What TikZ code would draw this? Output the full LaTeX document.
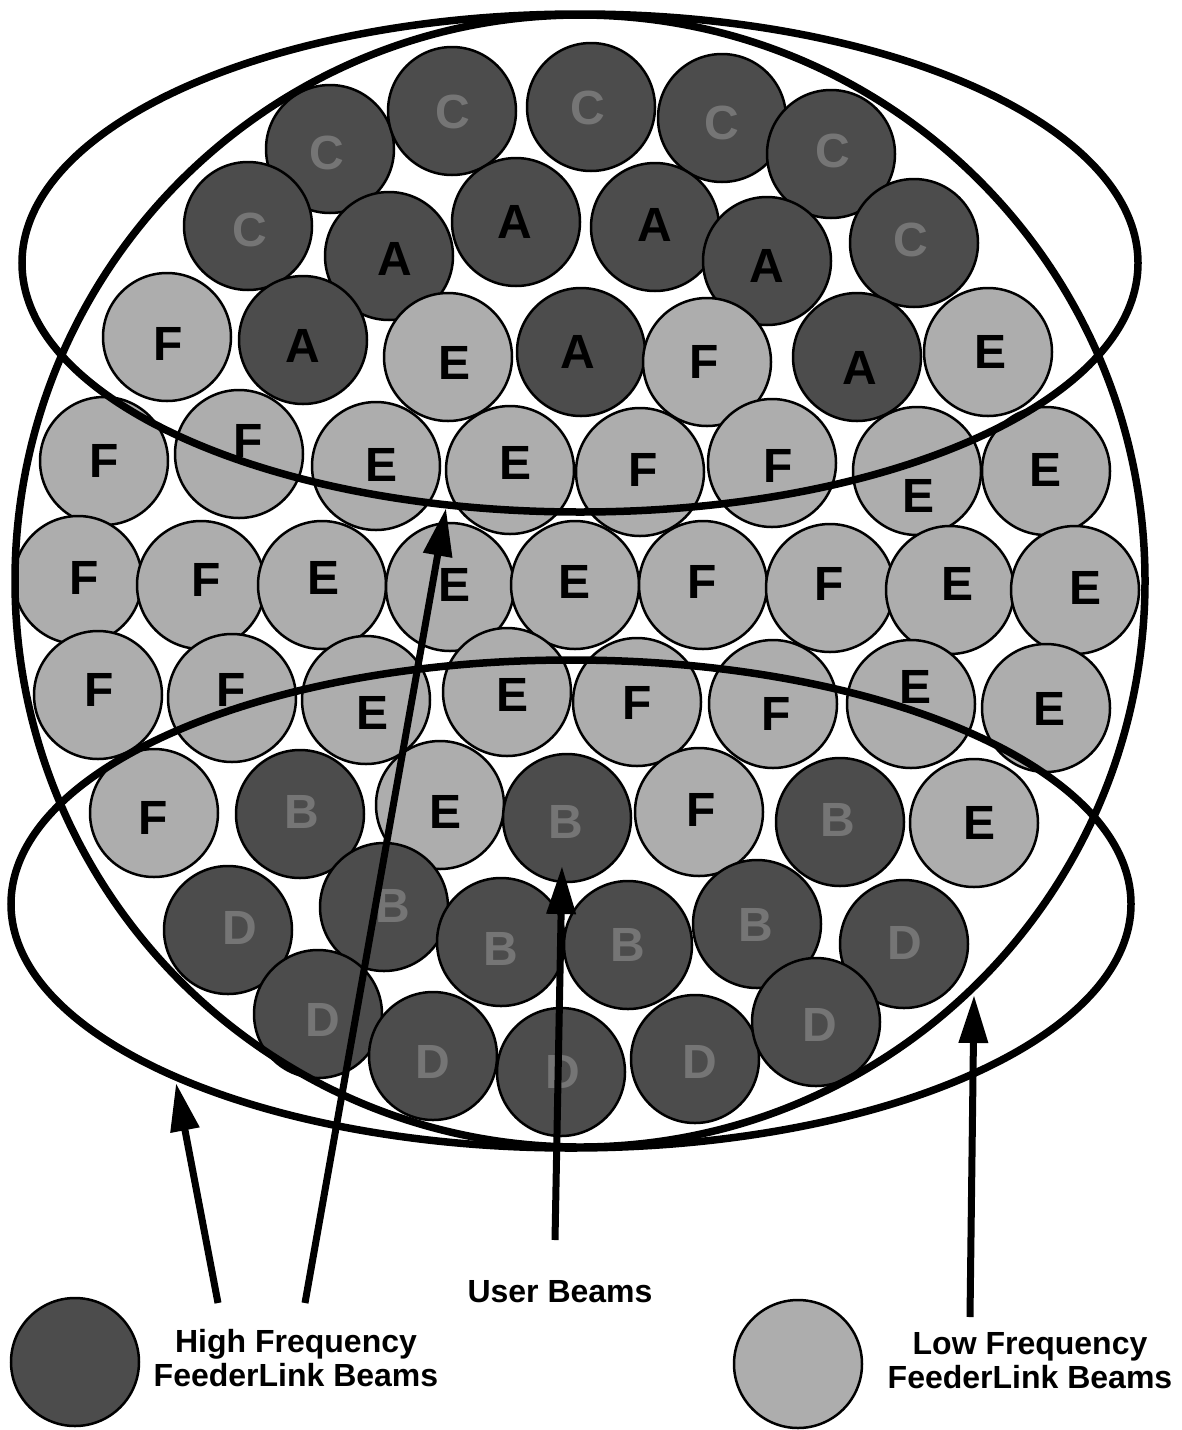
\documentclass[tikz,border=0pt]{standalone}
\usepackage{fontspec}
\setmainfont{Liberation Sans}
\usetikzlibrary{arrows.meta}
\definecolor{darkbeam}{gray}{0.30}
\definecolor{lightbeam}{gray}{0.68}
\definecolor{darklabel}{gray}{0.46}
\def\beamlist{%
330/149/327/153/C/hfbeam/dlab,%
452/111/453/112/C/hfbeam/dlab,%
591/107/588/108/C/hfbeam/dlab,%
722/118/722/123/C/hfbeam/dlab,%
831/154/833/151/C/hfbeam/dlab,%
248/226/250/230/C/hfbeam/dlab,%
914/243/911/240/C/hfbeam/dlab,%
389/256/395/259/A/hfbeam/alab,%
516/222/515/222/A/hfbeam/alab,%
655/227/655/225/A/hfbeam/alab,%
767/261/767/266/A/hfbeam/alab,%
303/340/303/346/A/hfbeam/alab,%
581/352/578/352/A/hfbeam/alab,%
857/357/860/368/A/hfbeam/alab,%
167/337/168/344/F/lfbeam/llab,%
448/357/455/363/E/lfbeam/llab,%
707/362/704/362/F/lfbeam/llab,%
988/352/990/352/E/lfbeam/llab,%
104/461/104/461/F/lfbeam/llab,%
239/454/248/441/F/lfbeam/llab,%
376/466/382/465/E/lfbeam/llab,%
510/470/516/463/E/lfbeam/llab,%
640/472/643/470/F/lfbeam/llab,%
772/463/778/466/F/lfbeam/llab,%
917/471/918/496/E/lfbeam/llab,%
1046/471/1045/470/E/lfbeam/llab,%
78/580/84/578/F/lfbeam/llab,%
201/585/206/580/F/lfbeam/llab,%
322/585/324/578/E/lfbeam/llab,%
450/587/455/585/E/lfbeam/llab,%
575/585/575/582/E/lfbeam/llab,%
703/585/702/582/F/lfbeam/llab,%
830/588/829/584/F/lfbeam/llab,%
950/590/957/584/E/lfbeam/llab,%
1075/590/1085/588/E/lfbeam/llab,%
98/695/99/690/F/lfbeam/llab,%
232/698/231/690/F/lfbeam/llab,%
366/700/373/713/E/lfbeam/llab,%
507/692/513/695/E/lfbeam/llab,%
637/702/637/703/F/lfbeam/llab,%
773/704/776/714/F/lfbeam/llab,%
911/704/915/687/E/lfbeam/llab,%
1046/708/1049/709/E/lfbeam/llab,%
154/813/153/818/F/lfbeam/llab,%
300/814/302/812/B/hfbeam/dlab,%
440/805/446/812/E/lfbeam/llab,%
567/818/566/822/B/hfbeam/dlab,%
699/812/701/810/F/lfbeam/llab,%
840/822/838/820/B/hfbeam/dlab,%
974/823/979/823/E/lfbeam/llab,%
228/930/240/928/D/hfbeam/dlab,%
384/907/393/906/B/hfbeam/dlab,%
501/942/501/949/B/hfbeam/dlab,%
628/945/628/945/B/hfbeam/dlab,%
757/924/756/925/B/hfbeam/dlab,%
904/944/905/943/D/hfbeam/dlab,%
318/1014/323/1020/D/hfbeam/dlab,%
433/1056/433/1062/D/hfbeam/dlab,%
561/1072/563/1072/D/hfbeam/dlab,%
695/1059/700/1062/D/hfbeam/dlab,%
816/1022/820/1025/D/hfbeam/dlab%
}
\begin{document}
\begin{tikzpicture}[x=1pt,y=-1pt,
  beam/.style={circle, draw=black, line width=2.5pt, minimum size=128pt, inner sep=0pt},
  hfbeam/.style={beam, fill=darkbeam},
  lfbeam/.style={beam, fill=lightbeam},
  llab/.style={font=\fontsize{48}{48}\selectfont\bfseries, text=black, inner sep=0pt},
  dlab/.style={llab, text=darklabel},
  alab/.style={llab, text=black},
  bigline/.style={line width=7.5pt},
  arr/.style={line width=7pt, -{Triangle[length=48pt,width=28pt]}},
  legtext/.style={font=\fontsize{32}{34}\selectfont\bfseries, align=center, inner sep=0pt}
]
\useasboundingbox (0,0) rectangle (1181,1430);
% beams
\foreach \x/\y/\lx/\ly/\t/\s/\ls [count=\i] in \beamlist {
  \node[\s] (b\i) at (\x,\y) {};
}
\foreach \x/\y/\lx/\ly/\t/\s/\ls [count=\i] in \beamlist {
  \node[\ls] (t\i) at (\lx,\ly) {\t};
}
% coverage outlines
\draw[bigline] (580,581) ellipse [x radius=565pt, y radius=566pt];
\draw[bigline] (580,263) ellipse [x radius=558pt, y radius=249pt];
\draw[bigline] (571,904) ellipse [x radius=560pt, y radius=244pt];
% arrows
\coordinate (a1s) at (218,1303);
\coordinate (a1e) at (176,1083);
\coordinate (a2s) at (305,1303);
\coordinate (a2e) at (446,508);
\coordinate (a3s) at (555,1240);
\coordinate (a3e) at (562,866);
\coordinate (a4s) at (970,1317);
\coordinate (a4e) at (974,995);
\draw[arr] (a1s) -- (a1e);
\draw[arr] (a2s) -- (a2e);
\draw[arr] (a3s) -- (a3e);
\draw[arr] (a4s) -- (a4e);
% legend
\node[legtext, anchor=base] (usert) at (560,1302) {User Beams};
\node[hfbeam] (leghf) at (75,1362) {};
\node[lfbeam] (leglf) at (798,1364) {};
\node[legtext, anchor=north] (leghft) at (296,1329) {High Frequency\\FeederLink Beams};
\node[legtext, anchor=north] (leglft) at (1030,1332) {Low Frequency\\FeederLink Beams};
\end{tikzpicture}
\end{document}
